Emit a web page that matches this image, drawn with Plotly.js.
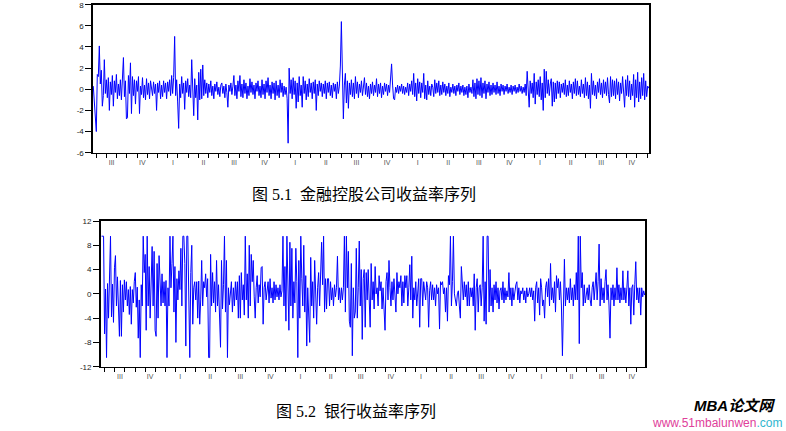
<!DOCTYPE html>
<html><head><meta charset="utf-8">
<script src="https://cdn.plot.ly/plotly-3.0.1.min.js"></script>
<style>html,body{margin:0;padding:0;background:#fff;}#chart{width:786px;height:431px;}</style>
</head><body><div id="chart"></div>
<script>
// Quarter labels along both x axes
const quarterLabels = ["III","IV","I","II","III","IV","I","II","III","IV","I","II","III","IV","I","II","III","IV"];
const topYTicks = [-6,-4,-2,0,2,4,6,8];
const bottomYTicks = [-12,-8,-4,0,4,8,12];

// Figure 5.1: financial holding company returns
const holdingReturns = [
0.3,-1.3,-1.8,-4.0,1.4,1.2,4.1,0.5,
1.8,-1.6,-0.6,2.8,-0.4,0.9,-0.8,1.1,-2.0,0.7,
-0.5,1.3,-1.6,0.8,-0.3,1.4,-0.9,0.5,-0.6,0.9,
-1.0,0.6,3.0,-0.7,0.8,-2.8,-2.7,1.3,-0.4,2.5,
-2.3,1.2,-0.6,0.9,-1.4,0.8,-0.2,1.2,-2.3,0.3,
-0.5,1.1,-0.8,0.4,-1.0,1.0,-0.5,0.6,-0.9,0.8,
0.2,-0.6,0.7,-0.4,0.5,-2.0,0.6,-0.3,0.8,-0.9,
0.4,-0.7,0.8,-0.3,0.6,-0.9,0.7,-0.2,0.9,-0.6,
1.3,-0.4,1.1,5.0,-0.6,0.9,-1.2,-3.7,0.5,-0.8,
1.2,-0.4,0.6,-1.9,0.8,-0.3,1.0,-0.7,0.4,-0.8,
2.8,-0.5,-2.5,1.0,-0.8,0.4,-2.9,1.6,-1.0,1.9,
-0.9,2.3,-0.6,0.9,-0.4,0.6,-0.8,0.5,-0.3,0.8,
-0.6,0.3,-0.9,0.5,-0.2,0.7,-0.5,0.2,-0.7,0.4,
0.6,-0.4,0.3,-0.8,0.5,-0.3,-1.7,0.4,-0.2,0.6,
-0.5,0.3,1.3,-0.6,0.4,-0.9,0.8,-0.2,1.3,-0.7,
0.5,-0.8,0.9,-0.4,0.6,-0.9,0.3,-0.6,1.0,-0.3,
0.7,-0.5,0.4,-0.9,0.6,-0.2,0.8,-0.6,0.3,-0.8,
0.9,-0.5,0.5,-0.9,0.8,-0.3,1.1,-0.6,0.4,-0.9,
0.7,-0.4,0.6,-1.0,0.8,-0.6,0.4,-0.8,0.9,-0.3,
0.6,-0.7,0.3,-0.5,0.2,-0.9,-5.1,2.0,-0.4,0.9,
-0.9,1.1,-0.5,0.8,-1.8,0.6,-1.2,1.2,-0.6,0.4,
-1.7,1.2,-0.4,0.8,-1.0,0.5,-0.7,1.0,-0.3,0.6,
-0.9,0.7,-0.4,0.9,-2.0,0.5,-0.6,0.8,-0.2,0.6,
-0.7,0.5,-0.4,0.8,-0.9,0.6,-0.3,0.7,-0.6,0.4,
-0.8,0.6,-0.2,0.5,-0.9,0.7,-0.4,0.3,2.2,6.4,
-0.6,-2.8,0.4,1.5,-1.3,0.8,-1.8,0.6,-0.5,0.9,
-0.7,0.6,-0.9,1.2,-0.4,0.7,-0.8,0.5,-0.3,0.8,
-0.6,0.4,1.1,-0.5,0.6,-0.7,0.3,-0.9,0.5,-0.4,
0.7,-0.6,0.4,-0.3,1.0,-0.7,0.5,-0.4,0.6,-0.8,
0.3,-0.5,0.6,-0.2,0.5,-0.6,0.4,-0.3,0.7,2.4,
0.4,-0.9,-1.0,0.2,-0.3,0.4,-0.4,0.3,-0.2,0.5,
-0.4,0.3,-0.5,0.2,-0.3,0.6,-0.6,0.5,-0.2,0.8,
-0.5,1.5,-0.7,0.6,-1.1,1.0,-0.4,0.7,-0.8,0.6,
-0.3,1.5,-0.9,0.4,-1.0,0.8,-0.5,0.3,-0.6,0.5,
0.2,-0.7,0.9,-0.4,0.6,-0.3,0.8,-0.6,0.4,-0.5,
0.7,-0.3,0.5,-0.6,0.3,-0.4,0.6,-0.7,0.2,-0.3,
0.5,-0.4,0.3,-0.6,0.4,-0.2,0.6,-0.5,0.3,-0.3,
0.4,-0.6,0.2,-0.5,0.3,-0.8,0.5,-0.3,0.2,-0.4,
0.9,-0.7,0.6,-0.9,1.0,-0.5,0.8,-0.6,1.1,-0.8,
0.6,-0.4,0.8,-0.9,0.5,-0.3,0.7,-0.6,0.4,-0.5,
0.6,-0.3,0.4,-0.5,0.7,-0.4,0.3,-0.6,0.5,-0.2,
0.4,-0.5,0.3,-0.2,0.5,-0.4,0.2,-0.3,0.4,-0.5,
0.3,-0.2,0.4,-0.4,0.2,-0.3,0.5,-0.2,0.3,-0.4,
0.2,-0.3,0.5,-0.6,1.7,-0.9,-1.7,0.8,-0.4,0.6,
-0.8,1.5,-1.4,0.7,-0.5,0.9,-0.7,1.2,-1.0,0.6,
-2.0,1.9,-0.8,1.7,-0.4,0.9,-0.6,0.5,1.0,-1.6,
0.7,-1.2,0.6,-0.9,0.8,-0.4,0.7,-0.8,0.5,-0.3,
0.6,-0.5,0.9,-0.7,0.4,-0.6,0.8,-0.3,0.5,-0.9,
0.7,-0.4,1.0,-0.6,0.8,-0.5,0.3,-0.7,0.9,-0.4,
0.5,-0.8,1.1,-0.6,0.7,-0.9,0.4,-1.8,1.5,-0.5,
0.8,-0.6,0.4,-0.9,0.7,-0.3,1.0,-0.5,0.6,-0.8,
0.9,-0.4,0.7,-0.6,1.1,-0.5,-1.3,1.2,-0.7,0.9,
-0.6,0.8,-0.9,1.0,-0.5,0.7,-1.1,0.6,-0.4,1.2,
-0.8,-1.7,0.9,-0.6,1.3,-0.7,0.8,-1.0,0.5,-0.6,
1.4,-1.7,0.9,-0.8,1.6,-1.2,0.7,-0.9,1.1,-0.6,
1.5,-1.0,0.8,-0.7,0.3,0.1
];

// Figure 5.2: bank returns
const bankReturns = [
9.5,9.5,9.5,-6.6,0.8,-10.5,1.7,-4,3,9.5,-3.8,1.6,-4.7,4.3,6.3,-2,2.8,-3.2,-7,2.2,
-7,1.5,-3,2.3,-1,2,-2,0.7,-3.4,1.2,-5,0.7,-1.5,2,3.5,-2.2,1.1,-7.3,-1,-10.5,
1.5,-2,9.5,3.5,6.5,-6,9.5,-2,4.5,-4,1,7.8,-2,7,-6,-7,5,-4,6.3,1,
-2,3.3,-1.5,2,-2,2.2,-10.5,1,-2,9.5,1,5,9.5,-3,4.5,-8,2.5,-1,3.8,0.7,
7.5,-2,9.5,9.5,5,-8.6,9.5,9.5,-3,-10.5,3.5,8,-5,1,2,-1,2,-4,2.1,-5,
-1,5.5,-2,2,1,3.3,-0.5,2.5,-10.5,-10.5,6.5,-2,3.5,-1.5,2,-3,5.5,-2,1.5,-2.5,
-8.8,5.5,-2.5,1.5,9.5,-3,5.5,-10.5,1,-1.8,1,2,-3,1,-2,2,-1,2,-4,3,
-4,3.5,-1,1.5,-3.5,9.5,-1,3.3,-4,8,-2,6.5,2,5.5,-0.5,-4,1,3,-1.5,1.5,
-0.5,4.3,4.5,-5,1,2,-1,1,2,-1.5,2.5,-0.7,1,-1.5,2,-1,1.5,-0.5,1,-1,
1.5,-0.5,0.5,9.5,-2,4.5,-4.5,9.5,1,-6,8.5,-2,7.5,-4,2,-1.5,7.5,2,-10.5,5.5,
-4,9.5,2.5,-2,8,-3,3,-8.6,1,-4,-8,6,-2,2,-4,5.5,-1,-5,1,3.5,
-2,2,8.5,1.5,9.5,-3,2.5,-2.5,2.5,2.5,-2,2,-1,1,-2,1.5,-0.5,1,6.2,-1,
1,-1.5,1,-1,1,9.5,-3,9.5,1,7,-4.5,-5.5,5,-10.2,1,-4,-3,7.5,-4,1,
8.7,-2,4,-7.5,2.5,
4,-5.5,3.5,-1,4,-2,-5.5,5,-1,2,-2.5,4.5,0,1,-2,3,0.5,2,-2.5,1,
-4.5,-6,2,3.5,-1,5.5,1,-2,2,-1,2.5,-1.5,-3,3.5,0,2,1,3,-2,2,
-1.5,3,1,3,-2,1,4.8,-1,6.2,-4,1,-1,2,-2,0,2.5,-5.5,2.5,2.5,-2,
2,0,-1,2,1,-5.5,0.5,2,-1,1.5,-1,1,-2,1.5,0,1,-5.8,2,1.5,2,
0,1,-3,1,-4.5,3,1.5,9.5,-2,2,9.5,0,-1.5,-2,0,0.5,-2,-4,4.5,1,
-1,2,-0.5,1.5,-2,2,-2,1,-0.5,1,-2,3.3,-6,1,2.5,-3,1,1.5,-2,1,
9.5,-4.5,2,-5,9.5,9.5,-3,4,-2,1,-3,1.5,-1,2,-1.5,1,-2.5,0.5,1,-1,
2,-1.5,1,-1,0.5,-0.5,3.5,-1,1,-2,1,-1,0.5,1.5,2,-1,1,-1.5,0.5,0,
1,-1,0.5,-1.5,1,-0.5,0,1,-0.5,1,-1,0.5,-4.5,1,2,-1.5,1,-3.5,2.5,1,
-2,-1,-4,1,2,-0.5,2.5,-2,5,-1,1,-1.5,2,-3,3,1,2.5,-1,2,-2,
-10.2,2,5.7,-2,1,-1,1,-1.5,2.5,-1,1,-2,1.5,-1,3.5,-1,9.5,-8.2,9.5,1,
3.5,-2,1.5,-1.5,0.5,1,-1,1.5,-1,-2,1,2,-1,2,3.5,-1,2,8.2,-2,2.5,
-1,1,-1.5,2,4,-1,1.5,-2,-7.3,1,-1,1.5,-2,1,-1,4.3,-1,1.5,-1.5,1,
-1,3.8,-1,1,-1.5,1,3.8,-2,1,-5,1,1.5,-3.5,1.5,5.3,-1,1,-1.5,1,-3.5,
1,-0.5,0.5,-0.2
];

// x positions measured in quarters (0 = start of first "III" quarter)
function spread(n, a, b){ const out=[]; for(let i=0;i<n;i++) out.push(a+(b-a)*i/(n-1)); return out; }
const xTop = spread(holdingReturns.length, -0.10, 18.05);
const xBot = spread(bankReturns.length, -0.11, 17.93);
const qCenters = quarterLabels.map((_,i)=>i+0.5);
const months = []; for(let k=0;k<=54;k++) months.push(k/3);

function xAxis(domain, range, anchor){
  return {domain, range, anchor, showline:true, mirror:true, linecolor:'#000', linewidth:1.6,
    showgrid:false, zeroline:false, tickmode:'array', tickvals:qCenters, ticktext:quarterLabels,
    ticks:'', ticklabelstandoff:2, tickfont:{family:'Arial, Liberation Sans', size:7, color:'#555'},
    minor:{tickmode:'array', tickvals:months.filter(v=>v>=range[0]&&v<=range[1]), ticks:'outside', ticklen:4, tickwidth:1, tickcolor:'#000', showgrid:false}};
}
function yAxis(domain, range, ticks, anchor){
  return {domain, range, anchor, showline:true, mirror:true, linecolor:'#000', linewidth:1.6,
    showgrid:false, zeroline:false, tickmode:'array', tickvals:ticks, ticktext:ticks.map(v=>String(v)),
    ticks:'outside', ticklen:6, tickwidth:1, tickcolor:'#000',
    tickfont:{family:'Arial, Liberation Sans', size:8, color:'#222'}};
}

const data = [
  {x:xTop, y:holdingReturns, type:'scatter', mode:'lines', line:{color:'#0000ff', width:1}, xaxis:'x', yaxis:'y', hoverinfo:'skip'},
  {x:xBot, y:bankReturns, type:'scatter', mode:'lines', line:{color:'#0000ff', width:1}, xaxis:'x2', yaxis:'y2', hoverinfo:'skip'}
];

const cap = {family:'Liberation Serif, Times New Roman, Noto Sans CJK SC', size:16, color:'#000'};
const layout = {
  width:786, height:431, margin:{l:0,r:0,t:0,b:0}, showlegend:false,
  paper_bgcolor:'#fff', plot_bgcolor:'#fff',
  xaxis: xAxis([0.1183,0.8257], [-0.11,18.06], 'y'),
  yaxis: yAxis([0.6457,0.9891], [-6,8], topYTicks, 'x'),
  xaxis2: xAxis([0.1281,0.8206], [-0.14,17.94], 'y2'),
  yaxis2: yAxis([0.1492,0.4872], [-12,12], bottomYTicks, 'x2'),
  annotations:[
    {text:'图 5.1  金融控股公司收益率序列', xref:'paper', yref:'paper', x:0.463, y:0.5476, xanchor:'center', yanchor:'middle', showarrow:false, font:cap},
    {text:'图 5.2  银行收益率序列', xref:'paper', yref:'paper', x:0.453, y:0.0464, xanchor:'center', yanchor:'middle', showarrow:false, font:cap},
    {text:'<b><i>MBA论文网</i></b>', xref:'paper', yref:'paper', x:0.989, y:0.0603, xanchor:'right', yanchor:'middle', showarrow:false, font:{family:'Arial, Liberation Sans, Noto Sans CJK SC', size:15, color:'#000'}},
    {text:'<span style="color:#e0409a">www.51mbalunwen</span><span style="color:#2fb6cf">.com</span>', xref:'paper', yref:'paper', x:0.997, y:0.0186, xanchor:'right', yanchor:'middle', showarrow:false, font:{family:'Arial, Liberation Sans', size:12, color:'#e0409a'}}
  ]
};
Plotly.newPlot('chart', data, layout, {staticPlot:true, displayModeBar:false});
</script>
</body></html>
